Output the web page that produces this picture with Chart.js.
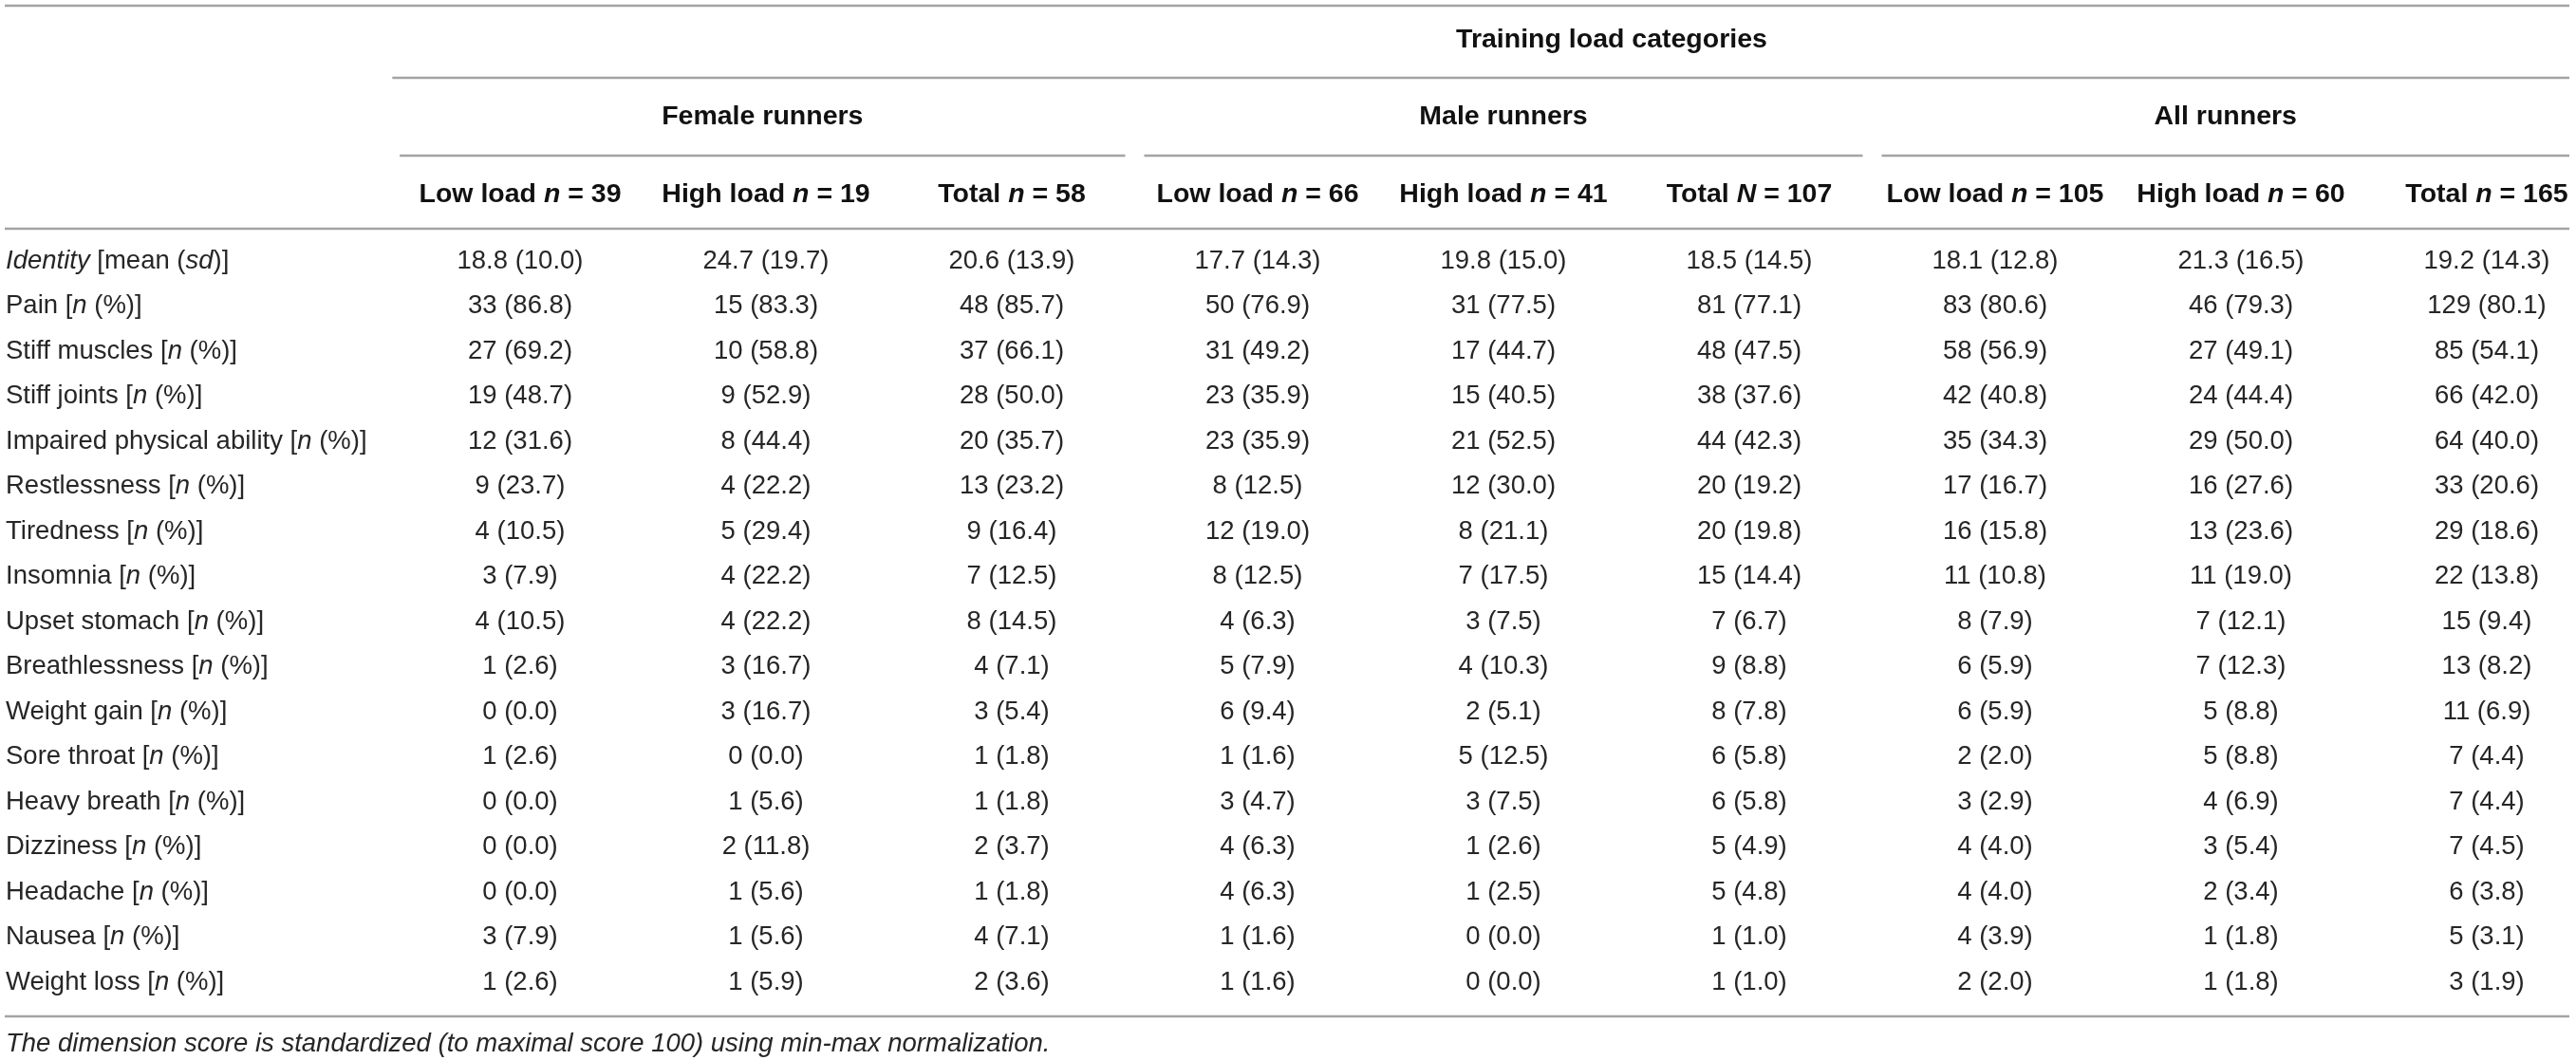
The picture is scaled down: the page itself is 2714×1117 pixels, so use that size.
<!DOCTYPE html>
<html>
<head>
<meta charset="utf-8">
<script src="https://cdn.jsdelivr.net/npm/chart.js@4.4.1/dist/chart.umd.min.js"></script>
<style>
  body { margin: 0; background: #fff; }
  #wrap { width: 2714px; height: 1117px; position: relative; }
</style>
</head>
<body>
<div id="wrap"><canvas id="table"></canvas></div>
<script>
// table content
const title = "Training load categories";
const groups = ["Female runners", "Male runners", "All runners"];
const loadLabels = ["Low load", "High load", "Total"];
const sizeSymbols = ["n", "n", "n", "n", "n", "N", "n", "n", "n"];
const groupSizes = [39, 19, 58, 66, 41, 107, 105, 60, 165];

const rows = [
  "Identity", "Pain", "Stiff muscles", "Stiff joints", "Impaired physical ability",
  "Restlessness", "Tiredness", "Insomnia", "Upset stomach", "Breathlessness",
  "Weight gain", "Sore throat", "Heavy breath", "Dizziness", "Headache",
  "Nausea", "Weight loss"
];
const footnote = "The dimension score is standardized (to maximal score 100) using min-max normalization.";

// [n, %] per row; first row is [mean, sd]
const femaleLow = [[18.8, 10.0], [33, 86.8], [27, 69.2], [19, 48.7], [12, 31.6], [9, 23.7], [4, 10.5], [3, 7.9], [4, 10.5], [1, 2.6], [0, 0.0], [1, 2.6], [0, 0.0], [0, 0.0], [0, 0.0], [3, 7.9], [1, 2.6]];
const femaleHigh = [[24.7, 19.7], [15, 83.3], [10, 58.8], [9, 52.9], [8, 44.4], [4, 22.2], [5, 29.4], [4, 22.2], [4, 22.2], [3, 16.7], [3, 16.7], [0, 0.0], [1, 5.6], [2, 11.8], [1, 5.6], [1, 5.6], [1, 5.9]];
const femaleTotal = [[20.6, 13.9], [48, 85.7], [37, 66.1], [28, 50.0], [20, 35.7], [13, 23.2], [9, 16.4], [7, 12.5], [8, 14.5], [4, 7.1], [3, 5.4], [1, 1.8], [1, 1.8], [2, 3.7], [1, 1.8], [4, 7.1], [2, 3.6]];
const maleLow = [[17.7, 14.3], [50, 76.9], [31, 49.2], [23, 35.9], [23, 35.9], [8, 12.5], [12, 19.0], [8, 12.5], [4, 6.3], [5, 7.9], [6, 9.4], [1, 1.6], [3, 4.7], [4, 6.3], [4, 6.3], [1, 1.6], [1, 1.6]];
const maleHigh = [[19.8, 15.0], [31, 77.5], [17, 44.7], [15, 40.5], [21, 52.5], [12, 30.0], [8, 21.1], [7, 17.5], [3, 7.5], [4, 10.3], [2, 5.1], [5, 12.5], [3, 7.5], [1, 2.6], [1, 2.5], [0, 0.0], [0, 0.0]];
const maleTotal = [[18.5, 14.5], [81, 77.1], [48, 47.5], [38, 37.6], [44, 42.3], [20, 19.2], [20, 19.8], [15, 14.4], [7, 6.7], [9, 8.8], [8, 7.8], [6, 5.8], [6, 5.8], [5, 4.9], [5, 4.8], [1, 1.0], [1, 1.0]];
const allLow = [[18.1, 12.8], [83, 80.6], [58, 56.9], [42, 40.8], [35, 34.3], [17, 16.7], [16, 15.8], [11, 10.8], [8, 7.9], [6, 5.9], [6, 5.9], [2, 2.0], [3, 2.9], [4, 4.0], [4, 4.0], [4, 3.9], [2, 2.0]];
const allHigh = [[21.3, 16.5], [46, 79.3], [27, 49.1], [24, 44.4], [29, 50.0], [16, 27.6], [13, 23.6], [11, 19.0], [7, 12.1], [7, 12.3], [5, 8.8], [5, 8.8], [4, 6.9], [3, 5.4], [2, 3.4], [1, 1.8], [1, 1.8]];
const allTotal = [[19.2, 14.3], [129, 80.1], [85, 54.1], [66, 42.0], [64, 40.0], [33, 20.6], [29, 18.6], [22, 13.8], [15, 9.4], [13, 8.2], [11, 6.9], [7, 4.4], [7, 4.4], [7, 4.5], [6, 3.8], [5, 3.1], [3, 1.9]];

const columns = [femaleLow, femaleHigh, femaleTotal, maleLow, maleHigh, maleTotal, allLow, allHigh, allTotal];
const colKeys = columns.map((_, i) => `${loadLabels[i % 3]} ${sizeSymbols[i]} = ${groupSizes[i]}`);

const FAMILY = '"Liberation Sans", Arial, sans-serif';
const LINE = "#a3a3a3";
const TEXT = "#262626";

function font(size, bold, italic) {
  return `${italic ? "italic " : ""}${bold ? "bold " : ""}${size}px ${FAMILY}`;
}

// draws a list of {t, i} segments; italic where i is set
function drawRich(ctx, segs, x, y, align, size, bold) {
  let total = 0;
  segs.forEach((s) => {
    ctx.font = font(size, bold, s.i);
    total += ctx.measureText(s.t).width;
  });
  let cx = align === "center" ? x - total / 2 : x;
  ctx.textAlign = "left";
  ctx.textBaseline = "middle";
  segs.forEach((s) => {
    ctx.font = font(size, bold, s.i);
    ctx.fillText(s.t, cx, y);
    cx += ctx.measureText(s.t).width;
  });
}

function hline(ctx, x1, x2, y) {
  ctx.beginPath();
  ctx.moveTo(x1, y);
  ctx.lineTo(x2, y);
  ctx.stroke();
}

function cellText(v, row) {
  if (row === 0) return `${v[0].toFixed(1)} (${v[1].toFixed(1)})`;
  return `${v[0]} (${v[1].toFixed(1)})`;
}

const tablePlugin = {
  id: "tableText",
  afterDatasetsDraw(chart) {
    const { ctx, scales: { x, y }, width } = chart;
    const step = x.getPixelForValue(1) - x.getPixelForValue(0);
    const top = y.top;
    const bottom = y.bottom;
    const left = 6;
    const right = width - 7;

    ctx.save();
    ctx.fillStyle = TEXT;
    ctx.strokeStyle = LINE;
    ctx.lineWidth = 2.5;

    // rules
    hline(ctx, 5, right, top - 269);
    hline(ctx, x.getPixelForValue(0) - step * 0.52, right, top - 193);
    hline(ctx, 5, right, top - 34);
    hline(ctx, 5, right, bottom + 36);

    // title
    ctx.fillStyle = "#111";
    drawRich(ctx, [{ t: title }], x.getPixelForValue(4) + step * 0.44, top - 233, "center", 28.5, true);

    // groups and their underlines
    groups.forEach((g, gi) => {
      const first = x.getPixelForValue(gi * 3);
      const last = x.getPixelForValue(gi * 3 + 2);
      const x1 = gi === 0 ? first - step * 0.49 : first - step / 2 + 10;
      const x2 = gi === groups.length - 1 ? right : last + step / 2 - 10;
      hline(ctx, x1, x2, top - 111);
      drawRich(ctx, [{ t: g }], (x1 + x2) / 2, top - 152, "center", 28.5, true);
    });

    // column headers
    colKeys.forEach((k, i) => {
      const cx = x.getPixelForValue(i);
      drawRich(ctx, [
        { t: loadLabels[i % 3] + " " },
        { t: sizeSymbols[i], i: true },
        { t: " = " + groupSizes[i] }
      ], cx, top - 70, "center", 28.5, true);
    });

    // row labels
    ctx.fillStyle = TEXT;
    rows.forEach((r, ri) => {
      const py = y.getPixelForValue(ri);
      const segs = ri === 0
        ? [{ t: r, i: true }, { t: " [mean (" }, { t: "sd", i: true }, { t: ")]" }]
        : [{ t: r + " [" }, { t: "n", i: true }, { t: " (%)]" }];
      drawRich(ctx, segs, left, py, "left", 27.5, false);
    });

    // cells, placed on each dataset point
    columns.forEach((col, ci) => {
      const meta = chart.getDatasetMeta(ci);
      meta.data.forEach((pt, ri) => {
        drawRich(ctx, [{ t: cellText(col[ri], ri) }], pt.x, pt.y, "center", 27.5, false);
      });
    });

    // footnote
    drawRich(ctx, [{ t: footnote, i: true }], left, bottom + 65, "left", 27.5, false);
    ctx.restore();
  }
};

new Chart(document.getElementById("table"), {
  type: "scatter",
  data: {
    datasets: columns.map((col, ci) => ({
      label: colKeys[ci],
      data: rows.map((r) => ({ x: colKeys[ci], y: r })),
      pointRadius: 0,
      pointHoverRadius: 0
    }))
  },
  options: {
    responsive: true,
    maintainAspectRatio: false,
    animation: false,
    events: [],
    layout: { padding: { left: 548, right: 94, top: 275, bottom: 82 } },
    scales: {
      x: { type: "category", labels: colKeys, offset: false, display: false },
      y: { type: "category", labels: rows, offset: false, display: false }
    },
    plugins: {
      legend: { display: false },
      tooltip: { enabled: false }
    }
  },
  plugins: [tablePlugin]
});
</script>
</body>
</html>
